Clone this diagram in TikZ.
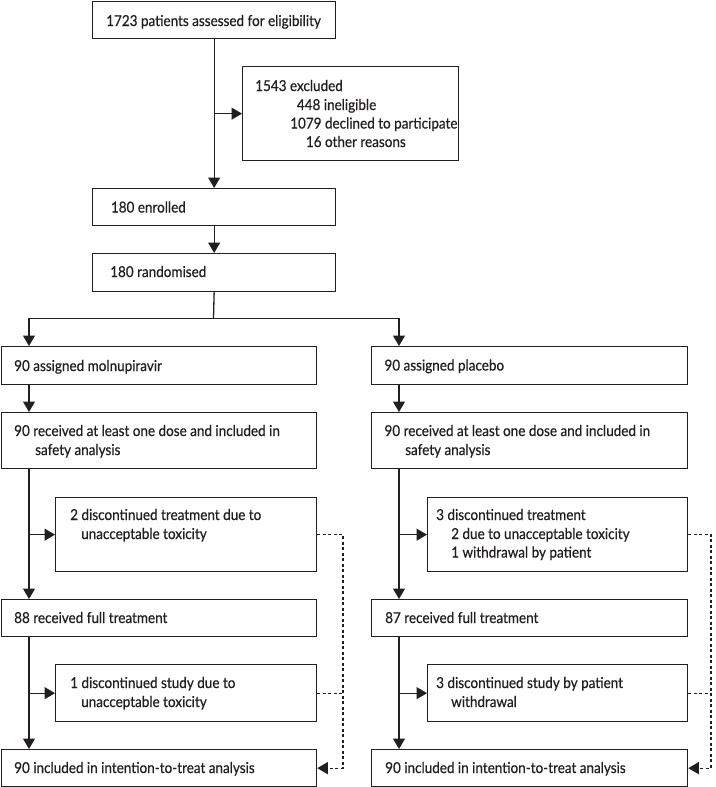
\documentclass[tikz,border=0pt]{standalone}
\usepackage{fontspec}
\setmainfont{Lato}[FakeStretch=0.9,FakeBold=0.6]
\usetikzlibrary{arrows.meta}
\definecolor{ink}{HTML}{231F20}
\begin{document}
\begin{tikzpicture}[x=1pt,y=-1pt,
  every node/.style={font=\fontsize{15}{19}\selectfont, text=ink},
  box/.style={draw=ink, line width=1.3pt, anchor=north west, inner sep=0pt},
  txt/.style={anchor=base west, inner sep=0pt},
  tip/.style={-{Triangle[length=10.5pt,width=12pt]}},
  arr/.style={draw=ink, line width=1.3pt, tip},
  ln/.style={draw=ink, line width=1.3pt},
  dsh/.style={draw=ink, line width=1.1pt, dash pattern=on 3pt off 2.5pt}]
\useasboundingbox (0,0) rectangle (715,787);
% boxes
\node[box, minimum width=243pt, minimum height=37.4pt] (top) at (92,0.7) {};
\node[box, minimum width=216pt, minimum height=94pt] (excl) at (242,66) {};
\node[box, minimum width=243pt, minimum height=37pt] (enr) at (92,188) {};
\node[box, minimum width=243pt, minimum height=38pt] (rand) at (92,253) {};
\node[box, minimum width=315.3pt, minimum height=38pt] (mol) at (0.7,346) {};
\node[box, minimum width=316pt, minimum height=38pt] (plc) at (371,346) {};
\node[box, minimum width=315.3pt, minimum height=56pt] (recvL) at (0.7,412) {};
\node[box, minimum width=316pt, minimum height=56pt] (recvR) at (371,412) {};
\node[box, minimum width=261pt, minimum height=74pt] (sideL1) at (55,497) {};
\node[box, minimum width=260pt, minimum height=74pt] (sideR1) at (427,497) {};
\node[box, minimum width=315.3pt, minimum height=37pt] (fullL) at (0.7,599) {};
\node[box, minimum width=316pt, minimum height=37pt] (fullR) at (371,599) {};
\node[box, minimum width=261pt, minimum height=57pt] (sideL2) at (55,664) {};
\node[box, minimum width=260pt, minimum height=57pt] (sideR2) at (427,664) {};
\node[box, minimum width=315.3pt, minimum height=37pt] (ittL) at (0.7,749) {};
\node[box, minimum width=316pt, minimum height=37pt] (ittR) at (371,749) {};
% texts
\node[txt] (t1) at (106,26) {1723 patients assessed for eligibility};
\node[txt] (t2) at (255,91) {1543 excluded};
\node[txt] (t3) at (296.7,110) {448 ineligible};
\node[txt] (t4) at (290,128.5) {1079 declined to participate};
\node[txt] (t5) at (305.7,147) {16 other reasons};
\node[txt] (t6) at (110.7,212.5) {180 enrolled};
\node[txt] (t7) at (110,277) {180 randomised};
\node[txt] (t8) at (14,371) {90 assigned molnupiravir};
\node[txt] (t9) at (384.3,370.5) {90 assigned placebo};
\node[txt] (t10) at (14,436) {90 received at least one dose and included in};
\node[txt] (t11) at (35,455) {safety analysis};
\node[txt] (t12) at (384.3,436) {90 received at least one dose and included in};
\node[txt] (t13) at (405,455) {safety analysis};
\node[txt] (t14) at (70,520) {2 discontinued treatment due to};
\node[txt] (t15) at (81,539) {unacceptable toxicity};
\node[txt] (t16) at (436,520) {3 discontinued treatment};
\node[txt] (t17) at (451,539) {2 due to unacceptable toxicity};
\node[txt] (t18) at (451,557.5) {1 withdrawal by patient};
\node[txt] (t19) at (14,623) {88 received full treatment};
\node[txt] (t20) at (385,623) {87 received full treatment};
\node[txt] (t21) at (70,688) {1 discontinued study due to};
\node[txt] (t22) at (81,707) {unacceptable toxicity};
\node[txt] (t23) at (436,688) {3 discontinued study by patient};
\node[txt] (t24) at (451,707) {withdrawal};
\node[txt] (t25) at (14,773) {90 included in intention-to-treat analysis};
\node[txt] (t26) at (385,773) {90 included in intention-to-treat analysis};
% helper coordinates
\coordinate (L) at (29,0);
\coordinate (R) at (399,0);
\coordinate (DL) at (343,0);
\coordinate (DR) at (711,0);
\coordinate (split) at (213.5,318.5);
% connectors
\draw[arr] (top) -- (enr);
\draw[arr] (top.south |- excl.west) -- (excl.west);
\draw[arr] (enr) -- (rand);
\draw[ln] (rand.south) -- (split);
\draw[arr] (split) -| (L |- mol.north);
\draw[arr] (split) -| (R |- plc.north);
\draw[arr] (L |- mol.south) -- (L |- recvL.north);
\draw[arr] (R |- plc.south) -- (R |- recvR.north);
\draw[arr] (L |- recvL.south) -- (L |- fullL.north);
\draw[arr] (R |- recvR.south) -- (R |- fullR.north);
\draw[arr] (L |- sideL1.west) -- (sideL1.west);
\draw[arr] (R |- sideR1.west) -- (sideR1.west);
\draw[arr] (L |- fullL.south) -- (L |- ittL.north);
\draw[arr] (R |- fullR.south) -- (R |- ittR.north);
\draw[arr] (L |- sideL2.west) -- (sideL2.west);
\draw[arr] (R |- sideR2.west) -- (sideR2.west);
\draw[dsh, tip] (sideL1.east) -- (DL |- sideL1.east) -- (DL |- ittL.east) -- (ittL.east);
\draw[dsh] (sideL2.east) -- (DL |- sideL2.east);
\draw[dsh, tip] (sideR1.east) -- (DR |- sideR1.east) -- (DR |- ittR.east) -- (ittR.east);
\draw[dsh] (sideR2.east) -- (DR |- sideR2.east);
\end{tikzpicture}
\end{document}
